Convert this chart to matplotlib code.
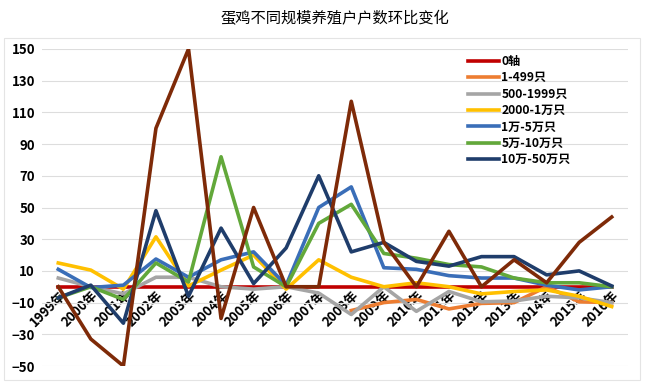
import matplotlib
matplotlib.use("Agg")
import matplotlib.pyplot as plt
import numpy as np

plt.rcParams['font.family'] = ['Noto Sans CJK SC', 'DejaVu Sans']

# years on the category axis
years = ['1999年', '2000年', '2001年', '2002年', '2003年', '2004年', '2005年', '2006年', '2007年',
         '2008年', '2009年', '2010年', '2011年', '2012年', '2013年', '2014年', '2015年', '2016年']

# month-on-month change of farm counts by scale (%)
zero_axis = [0] * 18
s_1_499 = [np.nan] * 9 + [-15, -10, -8, -14, -10.5, -10, 0, -9.5, -10]
s_500_1999 = [5.5, 0, -4.5, 6, 6, 0, -1.5, 0, -4, -17.5, 0, -15.5, -3, -9.5, -9, -6, -7, -10]
s_2000_1w = [15, 10.5, -1.5, 31.5, 0.5, 10.5, 20, -1.5, 17, 6, 0, 2.5, 0, -4.5, -3, -2, -6, -12.5]
s_1w_5w = [11, -0.5, 1, 17.5, 6, 17, 22, 1, 50, 63, 12, 11, 7, 5.5, 5.5, 1, -2, 0]
s_5w_10w = [-7, 0, -8, 15, 3, 82, 12.5, 0, 40, 52, 21, 18, 14, 12.5, 5.5, 2.5, 2.5, 0]
s_10w_50w = [-7, 1, -23, 48, -6, 37, 2, 24.5, 70, 22, 28, 16, 13, 19, 19, 7.5, 10, 0.5]
s_50w_up = [0, -33, -50, 100, 150, -20, 50, 0, 0, 117, 28, 0, 35, 0, 17, 2.5, 28, 44]

series = [
    ('0轴', zero_axis, '#C00000'),
    ('1-499只', s_1_499, '#ED7D31'),
    ('500-1999只', s_500_1999, '#A5A5A5'),
    ('2000-1万只', s_2000_1w, '#FFC000'),
    ('1万-5万只', s_1w_5w, '#3A6EB8'),
    ('5万-10万只', s_5w_10w, '#62A83A'),
    ('10万-50万只', s_10w_50w, '#1F3D6B'),
]

fig = plt.figure(figsize=(6.5, 3.84), dpi=100)

# faint chart-area border
fig.patches.append(plt.Rectangle((4 / 650, 4 / 384), 636 / 650, 1 - 42 / 384, transform=fig.transFigure,
                                 fill=False, edgecolor='#E4E4E4', lw=0.8))

ax = fig.add_axes([42 / 650, 1 - 366 / 384, (628 - 42) / 650, (366 - 49) / 384])

x = np.arange(len(years))
# unlabelled 8th series (not in the legend)
ax.plot(x, s_50w_up, color='#7E2A08', lw=2.6, zorder=3)
for name, vals, col in series:
    ax.plot(x, vals, color=col, lw=2.6, label=name, zorder=2 if name != '0轴' else 1.5)

ax.set_xlim(-0.5, 17.5)
ax.set_ylim(-50, 150)
ax.set_yticks(range(-50, 151, 20))
ax.grid(axis='y', color='#DDDDDD', lw=0.8)
ax.set_axisbelow(True)
for s in ['top', 'right', 'left']:
    ax.spines[s].set_visible(False)
ax.spines['bottom'].set_position(('data', 0))
ax.spines['bottom'].set_visible(False)
ax.set_xticks(x)
ax.set_xticklabels(years, rotation=45, ha='right', rotation_mode='anchor',
                   fontsize=9.5, fontweight='bold')
ax.tick_params(axis='x', length=0, pad=1)
ax.tick_params(axis='y', length=0, pad=5, labelsize=9.5)
for t in ax.get_yticklabels():
    t.set_fontweight('bold')

fig.text(0.515, 0.952, '蛋鸡不同规模养殖户户数环比变化', ha='center', va='center', fontsize=11)

leg = fig.legend(loc='upper left', bbox_to_anchor=(468 / 650, 1 - 55 / 384), frameon=False,
                 fontsize=8.7, handlelength=2.6, handletextpad=0.15, labelspacing=0.28,
                 borderpad=0, borderaxespad=0)
for t in leg.get_texts():
    t.set_fontweight('bold')

fig.savefig('out.png', dpi=100)
